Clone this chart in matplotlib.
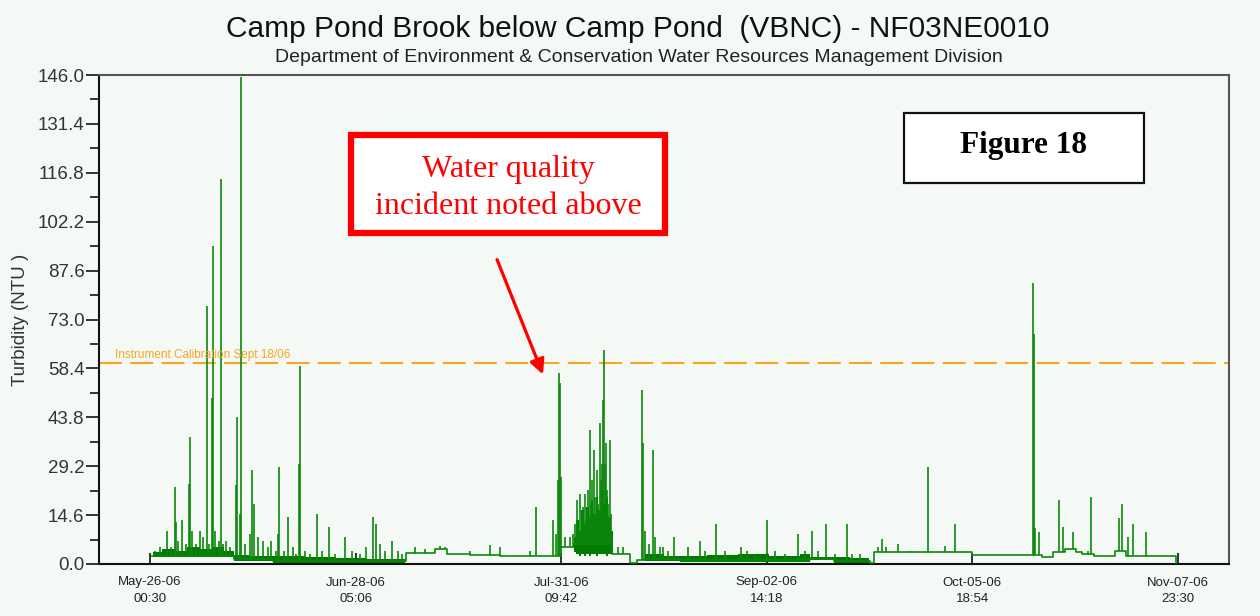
import numpy as np
import matplotlib
matplotlib.use("Agg")
import matplotlib.pyplot as plt
from matplotlib.patches import Rectangle, FancyArrowPatch
from matplotlib.ticker import MultipleLocator

# ---------------- data (days elapsed since May-26-06 00:30, turbidity NTU) -------------
tick_days = [0, 33.19, 66.38, 99.57, 132.77, 165.96]
tick_labels = ["May-26-06\n00:30", "Jun-28-06\n05:06", "Jul-31-06\n09:42",
               "Sep-02-06\n14:18", "Oct-05-06\n18:54", "Nov-07-06\n23:30"]
ytick_vals = [0.0, 14.6, 29.2, 43.8, 58.4, 73.0, 87.6, 102.2, 116.8, 131.4, 146.0]

# baseline level (step changes)
base_day = [0.3, 13.6, 19.9, 41.3, 46.0, 48.0, 51.7, 56.5, 66.4, 68.5, 74.6, 77.5,
            78.6, 79.9, 85.6, 106.6, 110.4, 116.2, 116.9, 132.7, 141.7, 144.0,
            145.8, 147.8, 149.5, 150.5, 152.4, 155.8, 157.5, 165.3, 165.6]
base_val = [2.5, 1.5, 0.8, 3.3, 4.5, 3.0, 2.8, 2.5, 5.0, 6.0, 3.0, 0.3,
            1.2, 1.5, 1.3, 1.5, 0.8, 0.2, 3.5, 2.8, 2.8, 2.0,
            3.5, 4.5, 3.5, 3.0, 2.5, 4.0, 2.5, 2.5, 0.0]

# dense (noisy) periods: lower / upper envelope of the rapid fluctuations
early_band_day = [0.5, 2.0, 4.0, 6.0, 8.0, 10.0, 12.0, 13.6, 16.0, 19.9, 25.0, 30.0,
                  35.0, 41.2]
early_band_low = [2.2, 2.2, 2.0, 2.0, 2.0, 2.2, 2.0, 1.0, 1.0, 0.3, 0.3, 0.3, 0.3, 0.3]
early_band_top = [3.5, 4.5, 4.0, 5.0, 4.5, 5.0, 4.0, 2.8, 2.5, 2.5, 2.2, 1.8, 1.5, 1.5]

storm_band_day = [68.4, 68.8, 69.2, 69.6, 70.0, 70.4, 70.8, 71.2, 71.6, 72.0, 72.4,
                  72.8, 73.2, 73.6, 74.0, 74.4, 74.7]
storm_band_low = [3.5, 3.0, 2.5, 3.0, 2.5, 3.0, 2.5, 3.0, 3.0, 2.5, 3.0, 3.0, 3.0,
                  2.5, 3.0, 3.0, 3.0]
storm_band_top = [8, 13, 10, 16, 12, 17, 14, 19, 15, 20, 16, 22, 18, 20, 14, 10, 5]

late_band_day = [79.9, 83.0, 85.6, 90.0, 95.0, 100.0, 105.0, 106.6, 110.4, 113.0, 116.0]
late_band_low = [0.8, 0.8, 0.5, 0.5, 0.5, 0.5, 0.5, 1.3, 0.3, 0.3, 0.2]
late_band_top = [3.0, 2.5, 2.5, 2.8, 3.0, 2.5, 3.0, 2.2, 2.2, 1.8, 1.5]

# spikes (time, peak value)
spike_day = [0.8, 1.6, 2.7, 3.4, 4.0, 4.2, 4.5, 5.2, 5.8, 6.3, 6.5, 6.8, 7.4, 8.1,
             8.6, 9.2, 9.5, 10.0, 10.2, 10.5, 11.1, 11.5, 11.8, 12.3, 12.9, 13.9,
             14.0, 14.5, 14.7, 15.3, 16.1, 16.5, 16.8, 17.4, 18.2, 19.1, 19.5, 20.3,
             20.7, 20.8, 21.6, 22.3, 23.1, 23.6, 24.1, 24.2, 25.0, 25.8, 27.0, 27.8,
             28.9, 29.9, 31.5, 32.6, 33.9, 34.9, 36.0, 36.5, 37.1, 37.9, 39.1, 40.0,
             40.7,
             42.8, 44.4, 46.8, 47.6, 51.7, 54.9, 56.5, 61.3, 62.3, 65.1, 65.6, 65.9,
             66.0, 66.2, 66.4, 67.0, 67.8, 68.3,
             68.6, 69.0, 69.1, 69.4, 69.7, 69.9, 70.2, 70.4, 70.5, 70.7, 71.0, 71.2,
             71.4, 71.7, 71.9, 72.2, 72.3, 72.7, 72.8, 73.0, 73.1, 73.3, 73.5, 73.6,
             73.8, 73.9, 74.3, 74.4, 74.6,
             75.6, 76.4, 79.4, 79.6, 79.9, 80.6, 81.2, 81.5, 82.3, 82.8, 83.6, 84.6,
             86.9, 88.8, 89.6, 91.4, 92.8, 95.4, 96.4, 97.7, 99.6, 100.9, 102.5,
             104.6, 105.7, 106.9, 107.9, 109.1, 110.6, 112.5, 113.3, 114.6,
             117.5, 118.1, 118.8, 120.8, 122.7, 125.6, 128.4, 130.0,
             142.6, 142.7, 142.9, 143.5, 146.8, 147.4, 149.0, 151.4, 151.9,
             156.4, 156.9, 157.9, 158.7, 160.8]
spike_val = [4, 5, 10, 5, 23, 12.5, 7, 13, 6, 24, 38, 10, 6, 10,
             8, 77, 6, 49.5, 95, 10, 7, 115, 6, 7, 5, 23.5,
             44, 15, 145.5, 6, 9, 28, 18, 8, 7, 5, 7, 4,
             9, 29, 4, 14, 5, 3, 30, 59, 4, 3, 15, 4,
             11, 3, 8, 4, 3, 5, 14, 12, 6, 4, 7, 4,
             3,
             5, 4.5, 5.5, 5, 4, 5.7, 5, 4, 17, 13, 9, 25,
             57, 54, 26, 8, 8, 9,
             12, 19, 10, 21, 14, 17, 21, 13, 16, 22, 40, 18,
             25, 34, 20, 28, 18, 42, 25, 30, 49, 64, 30, 36,
             22, 18, 37, 15, 8,
             5, 5, 52, 36, 10, 6, 34, 8, 5, 5, 4, 8,
             5, 7, 4, 12, 4, 5, 4, 3, 13, 4, 3,
             9, 4, 10, 4, 12, 3, 12, 3, 3,
             5, 7.5, 5, 6, 4, 29, 5.5, 12,
             84, 68.6, 10.7, 9.6, 19, 11, 9.7, 4, 20,
             13.7, 18, 8, 12, 9.6]

calib_level = 60.0

# ---------------- figure ----------------
W, H = 1260, 616
bg = "#F5F9F6"
green = "#0A870A"
fig = plt.figure(figsize=(W / 100, H / 100), dpi=100, facecolor=bg)


def fx(x):
    return x / W


def fy(y):
    return 1 - y / H


ax = fig.add_axes([fx(99), fy(564), fx(1229) - fx(99), fy(75) - fy(564)], facecolor=bg)

bd = np.array(base_day)
bv = np.array(base_val)
sd = np.array(spike_day)
sv = np.array(spike_val)
idx = np.clip(np.searchsorted(bd, sd, side="right") - 1, 0, len(bd) - 1)
for d, lo, hi in [(early_band_day, early_band_low, early_band_top),
                  (storm_band_day, storm_band_low, storm_band_top),
                  (late_band_day, late_band_low, late_band_top)]:
    ax.fill_between(d, lo, hi, step="post", color="#007A00", lw=0, zorder=3)
ax.step(bd, bv, where="post", color=green, lw=1.2, zorder=3)
ax.vlines(sd, bv[idx], sv, color=green, lw=1.2, zorder=3)

ax.axhline(calib_level, color="#F5A623", lw=1.5, dashes=(11, 4), zorder=2)
ax.text(fx(115 - 99) / (fx(1229) - fx(99)), (calib_level + 2.5) / 146.0,
        "Instrument Calibration Sept 18/06", transform=ax.transAxes,
        fontsize=8.5, color="#F5A623", family="Liberation Sans", va="center", ha="left")

ax.set_xlim((99 - 150) / 6.194, (1229 - 150) / 6.194)
ax.set_ylim(0, 146.0)

ax.set_xticks(tick_days)
ax.set_xticklabels(tick_labels, fontsize=9.5, family="Liberation Sans",
                   color="#222222", linespacing=1.45)
ax.set_yticks(ytick_vals)
ax.set_yticklabels([f"{v:.1f}" for v in ytick_vals], fontsize=13.5,
                   family="Liberation Sans", color="#333333")
ax.yaxis.set_minor_locator(MultipleLocator(7.3))
ax.tick_params(axis="y", which="major", direction="out", length=9.5, width=1.2,
               pad=1, color="#111111")
ax.tick_params(axis="y", which="minor", direction="out", length=6.5, width=1.2,
               color="#111111")
ax.tick_params(axis="x", which="major", direction="in", length=8, width=1.2,
               pad=9, color="#111111")

for s in ["left", "bottom"]:
    ax.spines[s].set_color("#111111")
    ax.spines[s].set_linewidth(1.5)
for s in ["top", "right"]:
    ax.spines[s].set_color("#555555")
    ax.spines[s].set_linewidth(1.5)

ax.set_ylabel("Turbidity (NTU )", fontsize=13.5, family="Liberation Sans",
              color="#333333", labelpad=6)
ax.yaxis.set_label_coords(-(99 - 29) / (1229 - 99), 0.5)

# titles
fig.text(fx(638), fy(29), "Camp Pond Brook below Camp Pond  (VBNC) - NF03NE0010",
         fontsize=21.5, family="Liberation Sans", ha="center", va="center", color="#111111")
fig.text(fx(639), fy(58),
         "Department of Environment & Conservation Water Resources Management Division",
         fontsize=14, family="Liberation Sans", ha="center", va="center", color="#222222")

# red annotation box
fig.patches.append(Rectangle((fx(351), fy(233)), fx(665) - fx(351), fy(135) - fy(233),
                             transform=fig.transFigure, facecolor="white",
                             edgecolor="#FF0000", lw=4.5, zorder=5))
fig.text(fx(508), fy(170), "Water quality", fontsize=23, family="Liberation Serif",
         color="#FF0000", ha="center", va="center", zorder=6)
fig.text(fx(508), fy(206), "incident noted above", fontsize=23,
         family="Liberation Serif", color="#FF0000", ha="center", va="center", zorder=6)
fig.patches.append(FancyArrowPatch((fx(496), fy(257)), (fx(544), fy(377)),
                                   transform=fig.transFigure, arrowstyle="-|>",
                                   mutation_scale=22, color="#FF0000", lw=2.3, zorder=6))

# Figure 18 box
fig.patches.append(Rectangle((fx(904), fy(183)), fx(1144) - fx(904), fy(113) - fy(183),
                             transform=fig.transFigure, facecolor="white",
                             edgecolor="#111111", lw=1.6, zorder=5))
fig.text(fx(1024), fy(145), "Figure 18", fontsize=22.5, family="Liberation Serif",
         weight="bold", color="#000000", ha="center", va="center", zorder=6)

fig.savefig("out.png", dpi=100, facecolor=bg)
